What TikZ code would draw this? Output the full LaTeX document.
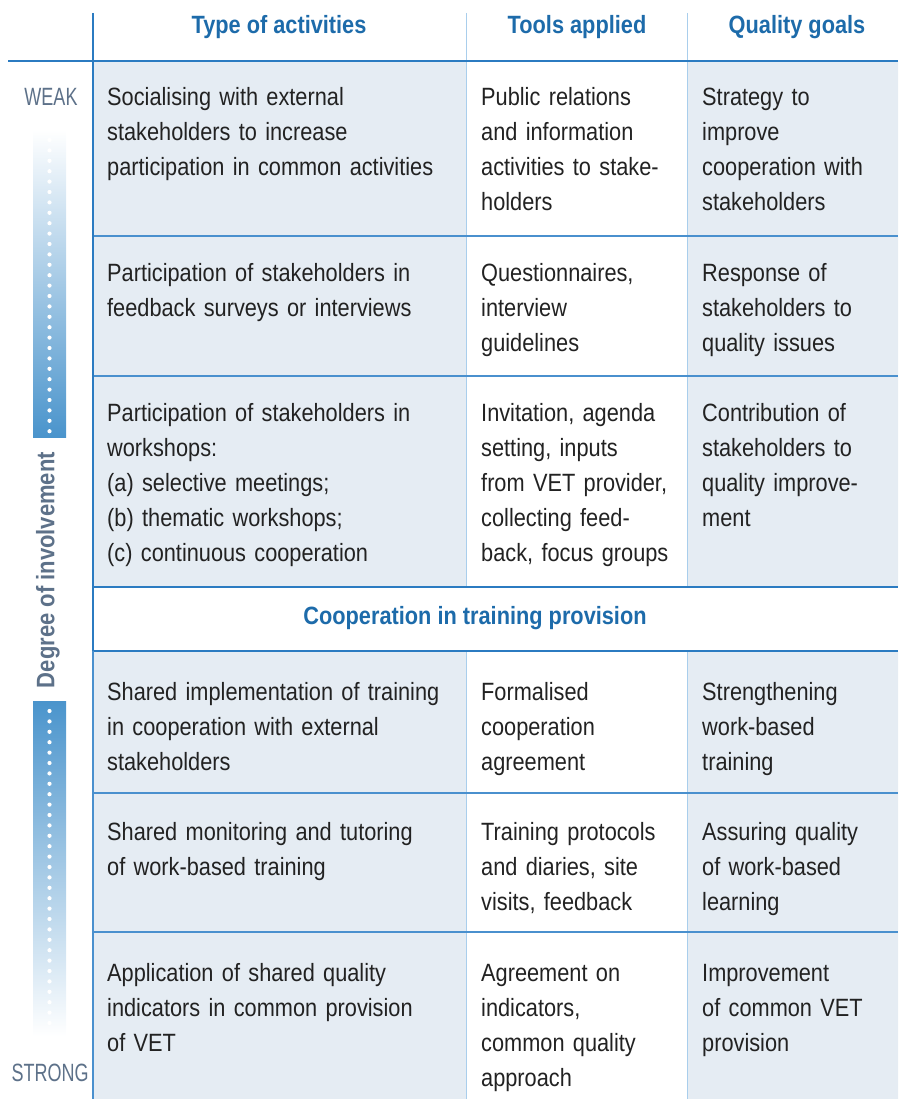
\documentclass[tikz,border=0pt]{standalone}
\usepackage{fontspec}
\setmainfont{Liberation Sans}[FakeStretch=0.87]
\newfontfamily\narrowfont{Liberation Sans}[FakeStretch=0.72]
\usepackage{tikz}

\definecolor{cellblue}{HTML}{E5ECF3}
\definecolor{headblue}{HTML}{1D6BAA}
\definecolor{ruledark}{HTML}{2B7BC1}
\definecolor{rulemid}{HTML}{4A90CE}
\definecolor{divider}{HTML}{A9CEEC}
\definecolor{bodytext}{HTML}{222222}
\definecolor{sidegray}{HTML}{5D7189}
\definecolor{barblue}{HTML}{4A94CC}

\tikzset{
  cell/.style={anchor=base west, inner sep=0pt, align=left, text=bodytext,
    font=\fontsize{25}{35}\selectfont},
  actcell/.style={cell, text width=360pt},
  toolcell/.style={cell, text width=205pt},
  goalcell/.style={cell, text width=190pt},
  head/.style={inner sep=0pt, text=headblue, font=\bfseries\fontsize{25}{30}\selectfont},
  side/.style={inner sep=0pt, text=sidegray, font=\narrowfont\fontsize{25}{30}\selectfont},
  thickrule/.style={ruledark, line width=2.2pt},
  rowrule/.style={rulemid, line width=1.5pt},
  colrule/.style={divider, line width=1pt}
}

\begin{document}
\begin{tikzpicture}[x=1pt,y=-1pt]
\useasboundingbox (0,0) rectangle (898,1099);
\fill[cellblue] (93,61) rectangle (466,587) (687,61) rectangle (898,587)
		(93,651) rectangle (466,1099) (687,651) rectangle (898,1099);
\shade[top color=white, bottom color=barblue] (33,130) rectangle (66,437);
\shade[top color=barblue, bottom color=white] (33,701) rectangle (66,1036);
\foreach \y in {140,150.4,...,434} \fill[white] (49.5,\y) circle (2.1pt);
\foreach \y in {711,721.4,...,1032} \fill[white] (49.5,\y) circle (2.1pt);

\draw[colrule] (466,13) -- (466,587) (687,13) -- (687,587)
		(466,651) -- (466,1099) (687,651) -- (687,1099);
\draw[rowrule] (93,236) -- (898,236) (93,376) -- (898,376)
		(93,793) -- (898,793) (93,932) -- (898,932);
\draw[thickrule] (8,61) -- (898,61) (93,587) -- (898,587) (93,651) -- (898,651);
\draw[thickrule] (93,13) -- (93,651);
\draw[rowrule] (93,651) -- (93,1099);

\path (279,27) node[head] (hact) {Type of activities}
		(577,27) node[head] (htool) {Tools applied}
		(797,27) node[head] (hgoal) {Quality goals}
		(475,618) node[head] (hcoop) {Cooperation in training provision}
		(51,97) node[side] (weak) {WEAK}
		(50,1073) node[side] (strong) {STRONG}
		(48,570) node[side, rotate=90, font=\bfseries\fontsize{25.3}{30}\selectfont] (degree) {Degree of involvement}
		;

\path (107,106) node[actcell] (act1) {Socialising with external\\stakeholders to increase\\participation in common activities}
		(481,106) node[toolcell] (tool1) {Public relations\\and information\\activities to stake-\\holders}
		(702,106) node[goalcell] (goal1) {Strategy to\\improve\\cooperation with\\stakeholders}
		(107,281) node[actcell] (act2) {Participation of stakeholders in\\feedback surveys or interviews}
		(481,281) node[toolcell] (tool2) {Questionnaires,\\interview\\guidelines}
		(702,281) node[goalcell] (goal2) {Response of\\stakeholders to\\quality issues}
		(107,421) node[actcell] (act3) {Participation of stakeholders in\\workshops:\\(a) selective meetings;\\(b) thematic workshops;\\(c) continuous cooperation}
		(481,421) node[toolcell] (tool3) {Invitation, agenda\\setting, inputs\\from VET provider,\\collecting feed-\\back, focus groups}
		(702,421) node[goalcell] (goal3) {Contribution of\\stakeholders to\\quality improve-\\ment}
		(107,700) node[actcell] (act4) {Shared implementation of training\\in cooperation with external\\stakeholders}
		(481,700) node[toolcell] (tool4) {Formalised\\cooperation\\agreement}
		(702,700) node[goalcell] (goal4) {Strengthening\\work-based\\training}
		(107,840) node[actcell] (act5) {Shared monitoring and tutoring\\of work-based training}
		(481,840) node[toolcell] (tool5) {Training protocols\\and diaries, site\\visits, feedback}
		(702,840) node[goalcell] (goal5) {Assuring quality\\of work-based\\learning}
		(107,981) node[actcell] (act6) {Application of shared quality\\indicators in common provision\\of VET}
		(481,981) node[toolcell] (tool6) {Agreement on\\indicators,\\common quality\\approach}
		(702,981) node[goalcell] (goal6) {Improvement\\of common VET\\provision}
		;
\end{tikzpicture}
\end{document}
